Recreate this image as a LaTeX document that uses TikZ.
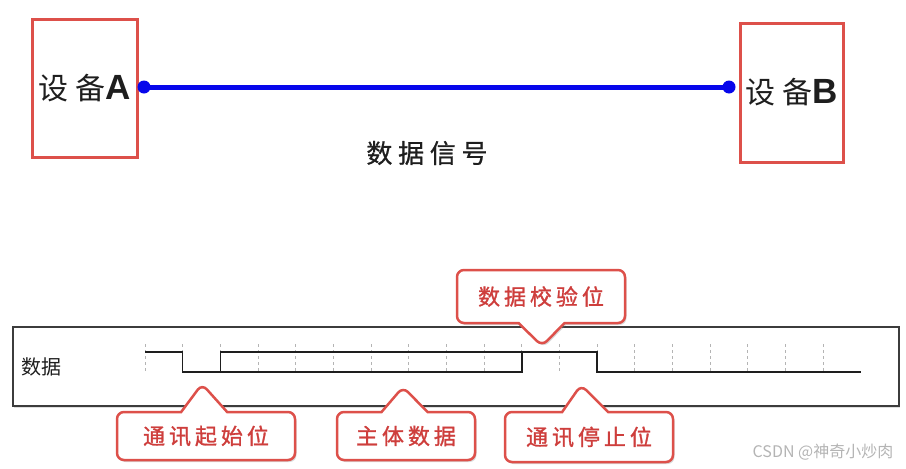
\documentclass[tikz,border=0pt]{standalone}
\usepackage{fontspec}
\setmainfont{Liberation Sans}
\newfontfamily\cjk{Noto Sans CJK SC}
\newfontfamily\cjkwide[LetterSpace=25]{Noto Sans CJK SC}
\newfontfamily\cjkdark[LetterSpace=22,FakeBold=0.8]{Noto Sans CJK SC}
\newfontfamily\cjktip[LetterSpace=18,FakeBold=1.2]{Noto Sans CJK SC}
\usetikzlibrary{calc,shapes.callouts,shadows}
\definecolor{brick}{RGB}{221,80,74}
\definecolor{tipred}{RGB}{206,62,60}
\definecolor{wireblue}{RGB}{6,6,235}
\definecolor{ink}{RGB}{30,30,30}
\definecolor{framegray}{RGB}{60,60,60}
\definecolor{markgray}{RGB}{180,180,180}
\tikzset{
  device/.style={draw=brick,line width=3pt,minimum width=105pt,minimum height=138pt,inner sep=0pt,text=ink},
  wire/.style={wireblue,line width=5pt},
  panel/.style={draw=framegray,line width=1.5pt,fill=white,minimum width=886pt,minimum height=79pt,inner sep=0pt,
    drop shadow={opacity=0.25,shadow xshift=1pt,shadow yshift=-1.5pt}},
  wave/.style={ink,line width=1.5pt},
  tickline/.style={markgray,line width=0.8pt,dash pattern=on 3pt off 3pt},
  tip/.style={rectangle callout,draw=brick,line width=2.5pt,fill=white,rounded corners=7pt,
    text=tipred,inner sep=0pt,callout pointer width=46pt,
    font=\cjktip\fontsize{22}{24}\selectfont,
    drop shadow={opacity=0.3,shadow xshift=1.5pt,shadow yshift=-2pt}},
}
\begin{document}
\begin{tikzpicture}[x=1pt,y=-1pt]
  \useasboundingbox (0,0) rectangle (906,469);
  % two devices and the signal line
  \node[device] (devA) at (84.5,88) {{\cjkwide\fontsize{30}{36}\selectfont 设备}{\fontsize{35}{40}\selectfont\bfseries A}};
  \node[device,minimum width=103pt,minimum height=139pt] (devB) at (791.5,92.5) {{\cjkwide\fontsize{30}{36}\selectfont 设备}{\fontsize{35}{40}\selectfont\bfseries B}};
  \coordinate (pA) at (144,87);
  \coordinate (pB) at (729,87);
  \draw[wire] (pA) -- (pB);
  \fill[wireblue] (pA) circle (6.5pt) (pB) circle (6.5pt);
  \node[text=ink,font=\cjkdark\fontsize{26}{30}\selectfont] (sig) at (427,153) {数据信号};

  % frame of the timing chart
  \node[panel] (panel) at (456,366.5) {};
  \node[anchor=west,text=ink,font=\cjk\fontsize{20}{24}\selectfont] (lbl) at (18,367) {数据};
  \coordinate (hi) at (0,352);
  \coordinate (lo) at (0,372);
  \coordinate (top) at (0,344);
  \foreach \i in {0,...,19} \coordinate (t\i) at ({145+37.68*\i},0);
  \foreach \i in {0,...,18} \draw[tickline] (t\i |- top) -- (t\i |- lo);
  \draw[wave] (t0 |- hi) -- (t1 |- hi) -- (t1 |- lo) -- (t10 |- lo) -- (t10 |- hi);
  \draw[wave] (t2 |- lo) -- (t2 |- hi) -- (t12 |- hi) -- (t12 |- lo) -- (t19 |- lo);

  % callouts
  \coordinate (aStart) at (202,384);
  \coordinate (aBody) at (403,387);
  \coordinate (aCheck) at (542,346);
  \coordinate (aStop) at (581,385);
  \node[tip,minimum width=178pt,minimum height=48pt,callout absolute pointer={(aStart)}] (start) at (206,436) {通讯起始位};
  \node[tip,minimum width=138pt,minimum height=48pt,callout absolute pointer={(aBody)}] (body) at (406,436) {主体数据};
  \node[tip,minimum width=168pt,minimum height=53pt,callout absolute pointer={(aCheck)}] (check) at (541,296.5) {数据校验位};
  \node[tip,minimum width=168pt,minimum height=50pt,callout absolute pointer={(aStop)}] (stop) at (589,437) {通讯停止位};

  \node[text=markgray,font=\cjk\fontsize{16}{20}\selectfont] (mark) at (823,452) {CSDN @神奇小炒肉};
\end{tikzpicture}
\end{document}
